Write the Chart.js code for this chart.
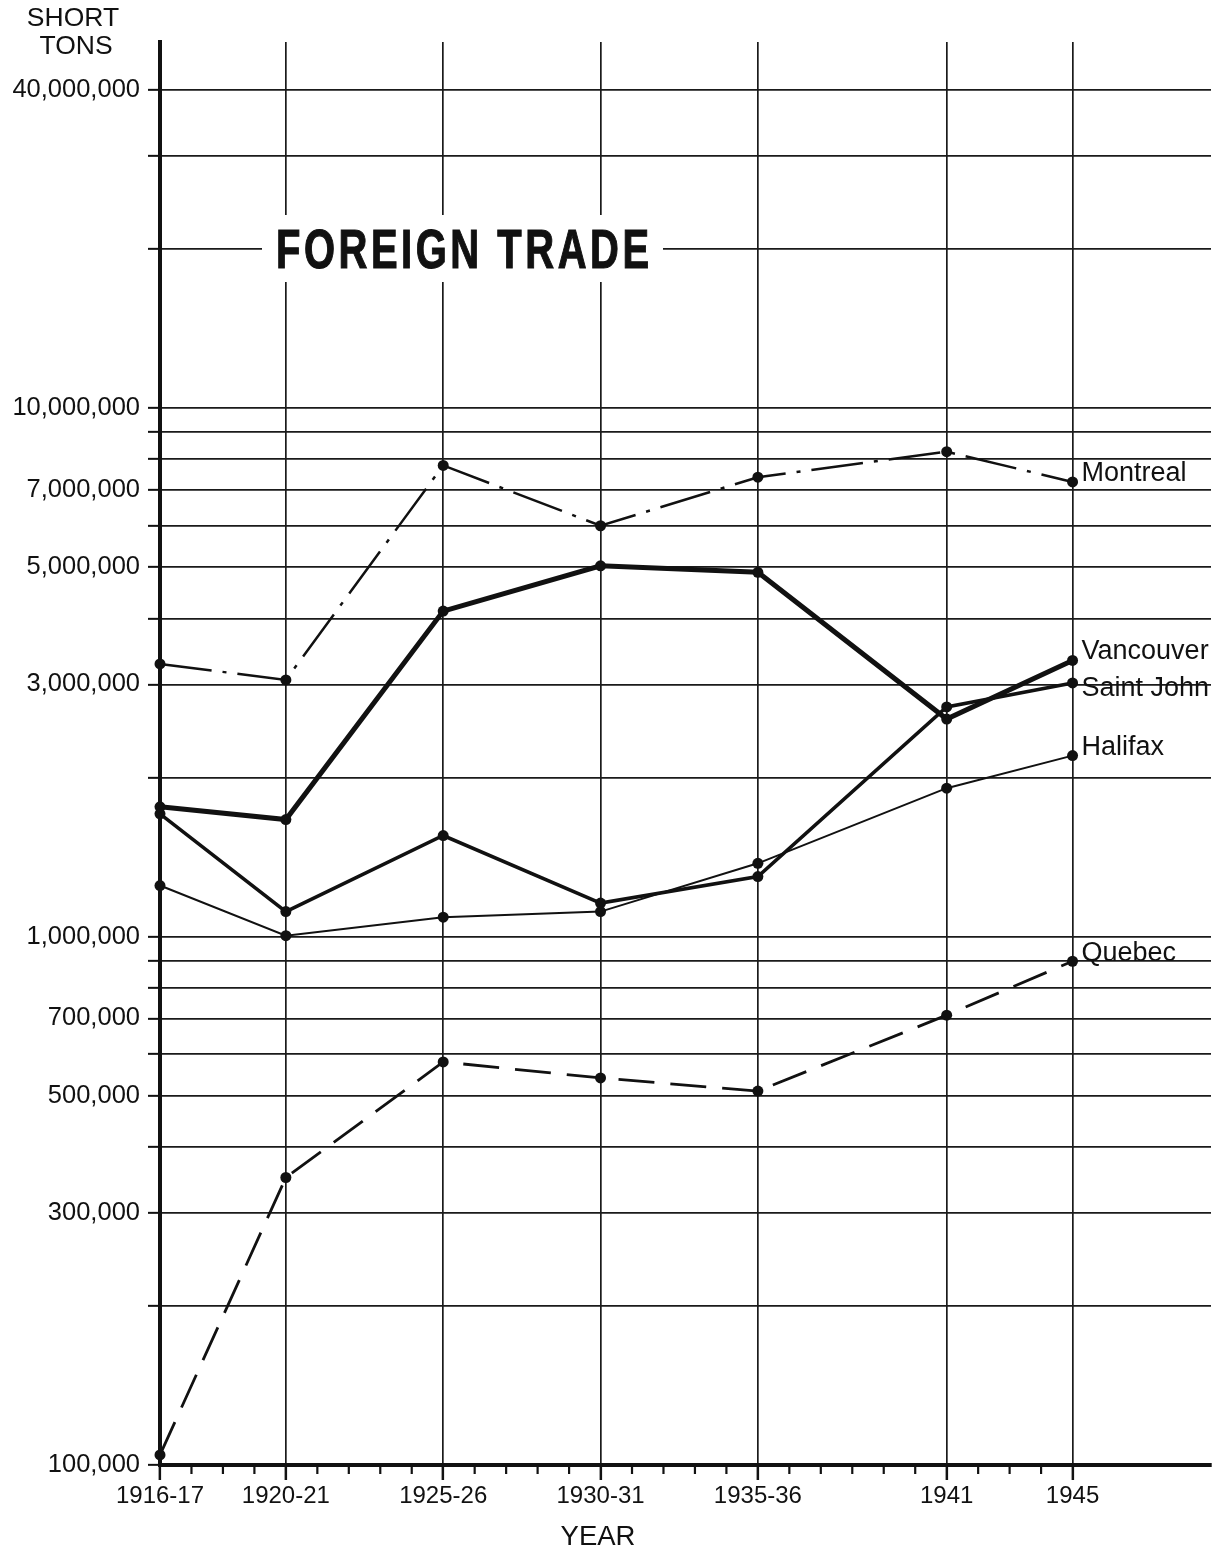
<!DOCTYPE html>
<html>
<head>
<meta charset="utf-8">
<script src="https://cdn.jsdelivr.net/npm/chart.js@4/dist/chart.umd.min.js"></script>
<style>
  html, body { margin: 0; padding: 0; background: #fff; }
  #wrap { width: 1217px; height: 1553px; position: relative; }
</style>
</head>
<body>
<div id="wrap"><canvas id="c" width="1217" height="1553"></canvas></div>
<script>
// ---- data ----
const years = [1916, 1920, 1925, 1930, 1935, 1941, 1945];
const yearLabels = ['1916-17', '1920-21', '1925-26', '1930-31', '1935-36', '1941', '1945'];
const montreal  = [3280000, 3060000, 7790000, 5990000, 7400000, 8270000, 7250000];
const vancouver = [1760000, 1665000, 4130000, 5030000, 4890000, 2580000, 3330000];
const saintJohn = [1707000, 1115000, 1553000, 1157000, 1299000, 2720000, 3020000];
const halifax   = [1249000, 1004000, 1088000, 1115000, 1376000, 1909000, 2200000];
const quebec    = [104500, 350000, 579000, 540000, 510000, 710000, 898000];
const yLabeledTicks = [100000, 300000, 500000, 700000, 1000000, 3000000, 5000000, 7000000, 10000000, 40000000];
const yGridTicks = [
  100000, 200000, 300000, 400000, 500000, 600000, 700000, 800000, 900000,
  1000000, 2000000, 3000000, 4000000, 5000000, 6000000, 7000000, 8000000, 9000000,
  10000000, 20000000, 30000000, 40000000
];
const minorYears = [];
for (let y = 1917; y < 1945; y++) if (!years.includes(y)) minorYears.push(y);

const INK = '#111';
const FONT = "'Liberation Sans', Arial, Helvetica, sans-serif";
Chart.defaults.font.family = FONT;
Chart.defaults.color = INK;

function pts(arr) { return years.map((x, i) => ({ x: x, y: arr[i] })); }

const series = [
  { label: 'Montreal',   data: montreal,  width: 2.5, dash: [52, 11, 4, 11], dy: -8 },
  { label: 'Vancouver',  data: vancouver, width: 5,   dash: [], dy: -9 },
  { label: 'Saint John', data: saintJohn, width: 3.5, dash: [], dy: 6 },
  { label: 'Halifax',    data: halifax,   width: 2,   dash: [], dy: -8 },
  { label: 'Quebec',     data: quebec,    width: 2.8, dash: [36, 16], dy: -8 }
];

const decorPlugin = {
  id: 'decor',
  afterDraw(chart) {
    const ctx = chart.ctx;
    const xs = chart.scales.x;
    const area = chart.chartArea;
    ctx.save();
    // minor year ticks below the x axis
    ctx.strokeStyle = INK;
    ctx.lineWidth = 2.2;
    minorYears.forEach(y => {
      const px = xs.getPixelForValue(y);
      ctx.beginPath();
      ctx.moveTo(px, area.bottom);
      ctx.lineTo(px, area.bottom + 9);
      ctx.stroke();
    });
    // series labels at the right end
    ctx.fillStyle = INK;
    ctx.font = '27px ' + FONT;
    ctx.textAlign = 'left';
    ctx.textBaseline = 'middle';
    series.forEach((s, i) => {
      const meta = chart.getDatasetMeta(i);
      const el = meta.data[meta.data.length - 1];
      ctx.fillText(s.label, el.x + 9, el.y + s.dy);
    });
    // title box
    ctx.fillStyle = '#fff';
    ctx.fillRect(262, 215, 401, 67);
    ctx.fillStyle = INK;
    ctx.strokeStyle = INK;
    ctx.lineWidth = 1.2;
    ctx.font = 'bold 56px ' + FONT;
    ctx.textBaseline = 'alphabetic';
    ctx.textAlign = 'left';
    try { ctx.letterSpacing = '5px'; } catch (e) {}
    const t = 'FOREIGN TRADE';
    const w = ctx.measureText(t).width - 5;
    ctx.translate(276, 268);
    ctx.scale(373 / w, 1);
    ctx.fillText(t, 0, 0);
    ctx.strokeText(t, 0, 0);
    ctx.setTransform(1, 0, 0, 1, 0, 0);
    try { ctx.letterSpacing = '0px'; } catch (e) {}
    // axis titles
    ctx.font = '26.5px ' + FONT;
    ctx.textAlign = 'center';
    ctx.textBaseline = 'middle';
    ctx.fillText('SHORT', 73, 19);
    ctx.fillText('TONS', 76, 47);
    ctx.font = '27.5px ' + FONT;
    ctx.fillText('YEAR', 598, 1537);
    ctx.restore();
  }
};

new Chart(document.getElementById('c'), {
  type: 'line',
  data: {
    datasets: series.map(s => ({
      label: s.label,
      data: pts(s.data),
      borderColor: INK,
      backgroundColor: INK,
      borderWidth: s.width,
      borderDash: s.dash,
      pointRadius: 5.5,
      pointBorderWidth: 0,
      pointBackgroundColor: INK,
      tension: 0,
      fill: false,
      clip: false
    }))
  },
  options: {
    responsive: false,
    animation: false,
    events: [],
    layout: { padding: { top: 42, right: 6, left: 0, bottom: 0 } },
    plugins: { legend: { display: false }, tooltip: { enabled: false }, title: { display: false } },
    scales: {
      x: {
        type: 'linear',
        min: 1916,
        max: 1949.4,
        afterBuildTicks: (scale) => { scale.ticks = years.map(v => ({ value: v })); },
        afterFit: (scale) => { scale.height = 88; },
        ticks: {
          autoSkip: false,
          maxRotation: 0,
          padding: 2,
          color: INK,
          font: { size: 24, family: FONT },
          callback: (v) => { const i = years.indexOf(v); return i >= 0 ? yearLabels[i] : ''; }
        },
        grid: { color: '#1a1a1a', lineWidth: 1.7, tickLength: 15, tickWidth: 2.5, tickColor: INK },
        border: { display: true, color: INK, width: 4 }
      },
      y: {
        type: 'logarithmic',
        min: 100000,
        max: 49300000,
        afterBuildTicks: (scale) => { scale.ticks = yGridTicks.map(v => ({ value: v })); },
        afterFit: (scale) => { scale.width = 160; },
        ticks: {
          autoSkip: false,
          padding: 8,
          color: INK,
          font: { size: 25.5, family: FONT },
          callback: (v) => yLabeledTicks.includes(v) ? v.toLocaleString('en-US') : ''
        },
        grid: { color: '#1a1a1a', lineWidth: 1.7, tickLength: 12, tickWidth: 2, tickColor: INK },
        border: { display: true, color: INK, width: 4 }
      }
    }
  },
  plugins: [decorPlugin]
});
</script>
</body>
</html>
